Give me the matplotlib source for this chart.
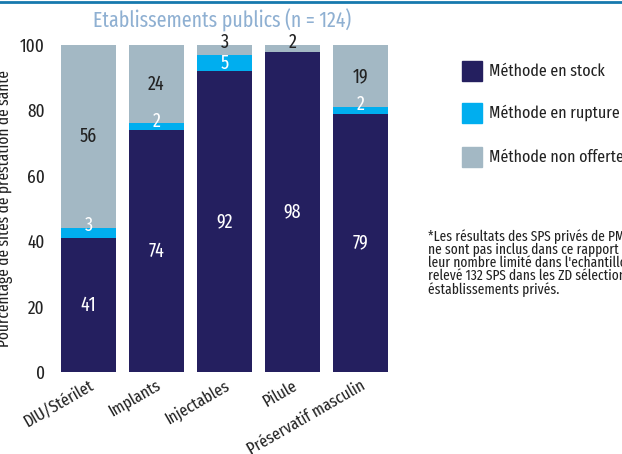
import numpy as np
import matplotlib.pyplot as plt
from matplotlib.patches import Rectangle
from matplotlib.lines import Line2D

plt.rcParams['font.family'] = ['Fira Sans Extra Condensed', 'Roboto Condensed', 'DejaVu Sans']

methods = ['DIU/Stérilet', 'Implants', 'Injectables', 'Pilule', 'Préservatif masculin']
en_stock = [41, 74, 92, 98, 79]
en_rupture = [3, 2, 5, 0, 2]
non_offerte = [56, 24, 3, 2, 19]

series_names = ['Méthode en stock', 'Méthode en rupture', 'Méthode non offerte']
colors = ['#241F5F', '#00AEEF', '#A3B8C4']
label_colors = ['white', 'white', '#222222']

fig = plt.figure(figsize=(6.22, 4.54), dpi=100)
ax = fig.add_axes([54.5 / 622, 82 / 454, 340 / 622, 327 / 454])

x = np.arange(len(methods))
bottom = np.zeros(len(methods))
for vals, c, lc in zip([en_stock, en_rupture, non_offerte], colors, label_colors):
    vals = np.array(vals)
    ax.bar(x, vals, bottom=bottom, width=0.81, color=c)
    for xi, v, b in zip(x, vals, bottom):
        if v > 0:
            # thin segments at the top get their label nudged upward
            yy = b + v / 2 if v > 4 else b + v + 0.8
            ax.text(xi, yy, str(v), ha='center', va='center',
                    color=lc, fontsize=14)
    bottom = bottom + vals

ax.set_xlim(-0.5, 4.5)
ax.set_ylim(0, 100)
ax.set_yticks([0, 20, 40, 60, 80, 100])
ax.tick_params(axis='y', length=0, labelsize=13.5, pad=7, colors='#222222')
ax.tick_params(axis='x', length=0, labelsize=12.5, pad=4, colors='#222222')
ax.set_xticks(x)
ax.set_xticklabels(methods, rotation=30, ha='right', rotation_mode='anchor')
for s in ax.spines.values():
    s.set_visible(False)
ax.set_ylabel('Pourcentage de sites de prestation de santé', fontsize=12,
              color='#222222', labelpad=5)

fig.text(222 / 622, 1 - 20 / 454, 'Etablissements publics (n = 124)',
         ha='center', va='center', fontsize=15.5, color='#8FB0D2')

# top rule
fig.add_artist(Line2D([0, 1], [1 - 1.5 / 454, 1 - 1.5 / 454], color='#1679AE', lw=2))

# legend
leg_y = [71, 113, 157]
for name, c, yy in zip(series_names, colors, leg_y):
    fig.add_artist(Rectangle((462 / 622, 1 - (yy + 10) / 454), 20 / 622, 20 / 454,
                             color=c, transform=fig.transFigure))
    fig.text(489 / 622, 1 - yy / 454, name, ha='left', va='center',
             fontsize=12.5, color='#222222')

note = ("*Les résultats des SPS privés de PMA\n"
        "ne sont pas inclus dans ce rapport en raison de\n"
        "leur nombre limité dans l'echantillon. On a\n"
        "relevé 132 SPS dans les ZD sélectionnées, dont 8\n"
        "éstablissements privés.")
fig.text(428 / 622, 1 - 229 / 454, note, ha='left', va='top', fontsize=10.5,
         color='#222222', linespacing=0.9)

fig.savefig('out.png', dpi=100)
